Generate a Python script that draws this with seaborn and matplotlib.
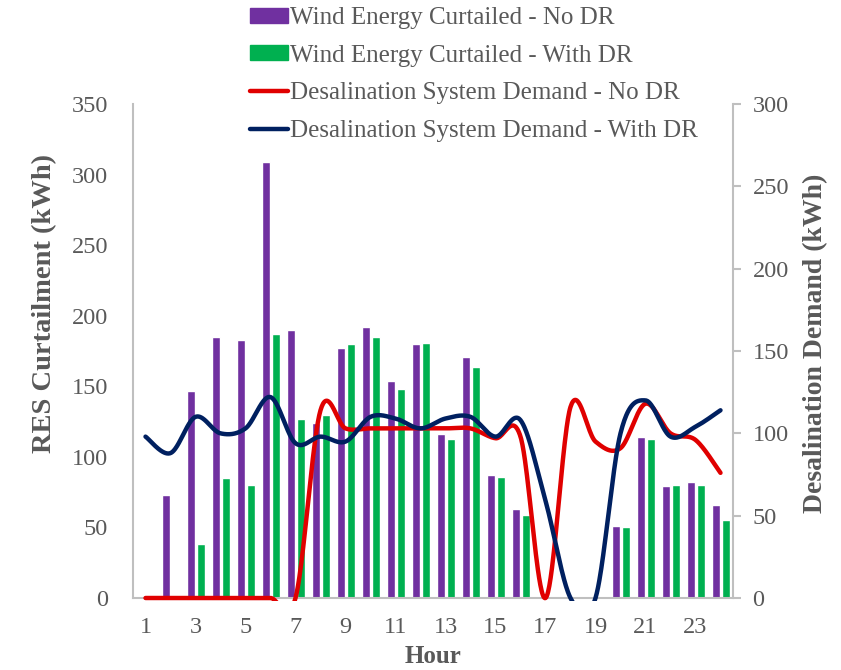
import numpy as np
import pandas as pd
import matplotlib
matplotlib.use('Agg')
import matplotlib.pyplot as plt
import seaborn as sns
from matplotlib.patches import Patch
from matplotlib.lines import Line2D
from matplotlib.transforms import Bbox, TransformedBbox

hours = list(range(1, 25))
curtail_no_dr = [0, 73, 147, 185, 183, 309, 190, 124, 177, 192, 154, 180,
                 116, 171, 87, 63, 0, 0, 0, 51, 114, 79, 82, 66]
curtail_with_dr = [0, 0, 38, 85, 80, 187, 127, 130, 180, 185, 148, 181,
                   113, 164, 86, 59, 0, 0, 0, 50, 113, 80, 80, 55]
demand_no_dr = [0, 0, 0, 0, 0, 0, 0, 114, 103, 103, 103, 103,
                103, 103, 97, 98, 0, 116, 95, 91, 118, 100, 96, 76]
demand_with_dr = [98, 88, 110, 100, 103, 122, 94, 98, 95, 110, 109, 103,
                  109, 110, 98, 108, 59, 0, 0, 100, 120, 98, 104, 114]

names = ['Wind Energy Curtailed - No DR', 'Wind Energy Curtailed - With DR',
         'Desalination System Demand - No DR', 'Desalination System Demand - With DR']
colors = ['#7030A0', '#00B050', '#E00000', '#002060']
grey = '#595959'
axis_grey = '#BFBFBF'


def smooth(ys, n=40):
    # excel-like smoothed line (catmull-rom / bezier)
    y = np.asarray(ys, float)
    x = np.arange(len(y), dtype=float)
    xp = np.r_[x[0], x, x[-1]]
    yp = np.r_[y[0], y, y[-1]]
    t = np.linspace(0, 1, n)
    out_x, out_y = [], []
    for i in range(1, len(xp) - 2):
        p0, p1, p2, p3 = [np.array([xp[j], yp[j]]) for j in (i - 1, i, i + 1, i + 2)]
        c1 = p1 + (p2 - p0) / 6
        c2 = p2 - (p3 - p1) / 6
        b = ((1 - t) ** 3)[:, None] * p1 + (3 * (1 - t) ** 2 * t)[:, None] * c1 \
            + (3 * (1 - t) * t ** 2)[:, None] * c2 + (t ** 3)[:, None] * p2
        out_x.append(b[:, 0])
        out_y.append(b[:, 1])
    return np.concatenate(out_x), np.concatenate(out_y)


sns.set_style('white')
plt.rcParams['font.family'] = ['Liberation Serif', 'DejaVu Serif']

df = pd.DataFrame({
    'Hour': hours * 2,
    'kWh': curtail_no_dr + curtail_with_dr,
    'Series': [names[0]] * 24 + [names[1]] * 24,
})

fig = plt.figure(figsize=(8.41, 6.70), dpi=100)
ax = fig.add_axes([133 / 841, 72 / 670, 600 / 841, 494 / 670])
sns.barplot(data=df, x='Hour', y='kWh', hue='Series', palette=colors[:2],
            width=0.8, gap=0.2, saturation=1, errorbar=None, legend=False, ax=ax)

ax.set_xlim(-0.5, 23.5)
ax.set_ylim(0, 350)
ax.set_yticks(range(0, 351, 50))
ax.set_xticks(range(0, 24, 2))
ax.set_xticklabels([str(h) for h in hours[::2]])
ax.tick_params(axis='both', length=0, labelsize=17.5, labelcolor=grey)
ax.tick_params(axis='x', pad=14)
ax.tick_params(axis='y', pad=18)
ax.set_xlabel('Hour', fontsize=18, fontweight='bold', color=grey, labelpad=5)
ax.set_ylabel('RES Curtailment (kWh)', fontsize=20.5, fontweight='bold', color=grey)
ax.yaxis.set_label_coords(-0.127, 0.597)
for s in ['top', 'right']:
    ax.spines[s].set_visible(False)
for s in ['left', 'bottom']:
    ax.spines[s].set_color(axis_grey)
    ax.spines[s].set_linewidth(1.5)

ax2 = ax.twinx()
ax2.set_ylim(0, 300)
ax2.set_yticks(range(0, 301, 50))
for vals, c in [(demand_no_dr, colors[2]), (demand_with_dr, colors[3])]:
    sx, sy = smooth(vals)
    sns.lineplot(x=sx, y=sy, color=c, linewidth=3.2, sort=False, estimator=None, ax=ax2)
clip = TransformedBbox(Bbox([[0, -0.007], [1, 1.01]]), ax2.transAxes)
for ln in ax2.lines:
    ln.set_clip_box(clip)
    ln.set_solid_capstyle('round')
ax2.set_xlim(-0.5, 23.5)
for s in ['top', 'left', 'bottom']:
    ax2.spines[s].set_visible(False)
ax2.spines['right'].set_color(axis_grey)
ax2.spines['right'].set_linewidth(1.5)
ax2.tick_params(axis='y', length=6, width=1.5, color=axis_grey, labelsize=17.5,
                labelcolor=grey, pad=8)
ax2.set_ylabel('Desalination Demand (kWh)', fontsize=20, fontweight='bold', color=grey)
ax2.yaxis.set_label_coords(1.117, 0.515)

handles = [Patch(color=colors[0]), Patch(color=colors[1]),
           Line2D([], [], color=colors[2], lw=3.2), Line2D([], [], color=colors[3], lw=3.2)]
fig.legend(handles, names, loc='upper left', bbox_to_anchor=(250 / 841, 1 - 7 / 670),
           frameon=False, fontsize=18, labelcolor=grey, handlelength=1.5,
           handleheight=0.55, handletextpad=0.1, labelspacing=0.63,
           borderpad=0, borderaxespad=0)

fig.savefig('out.png', dpi=100)
